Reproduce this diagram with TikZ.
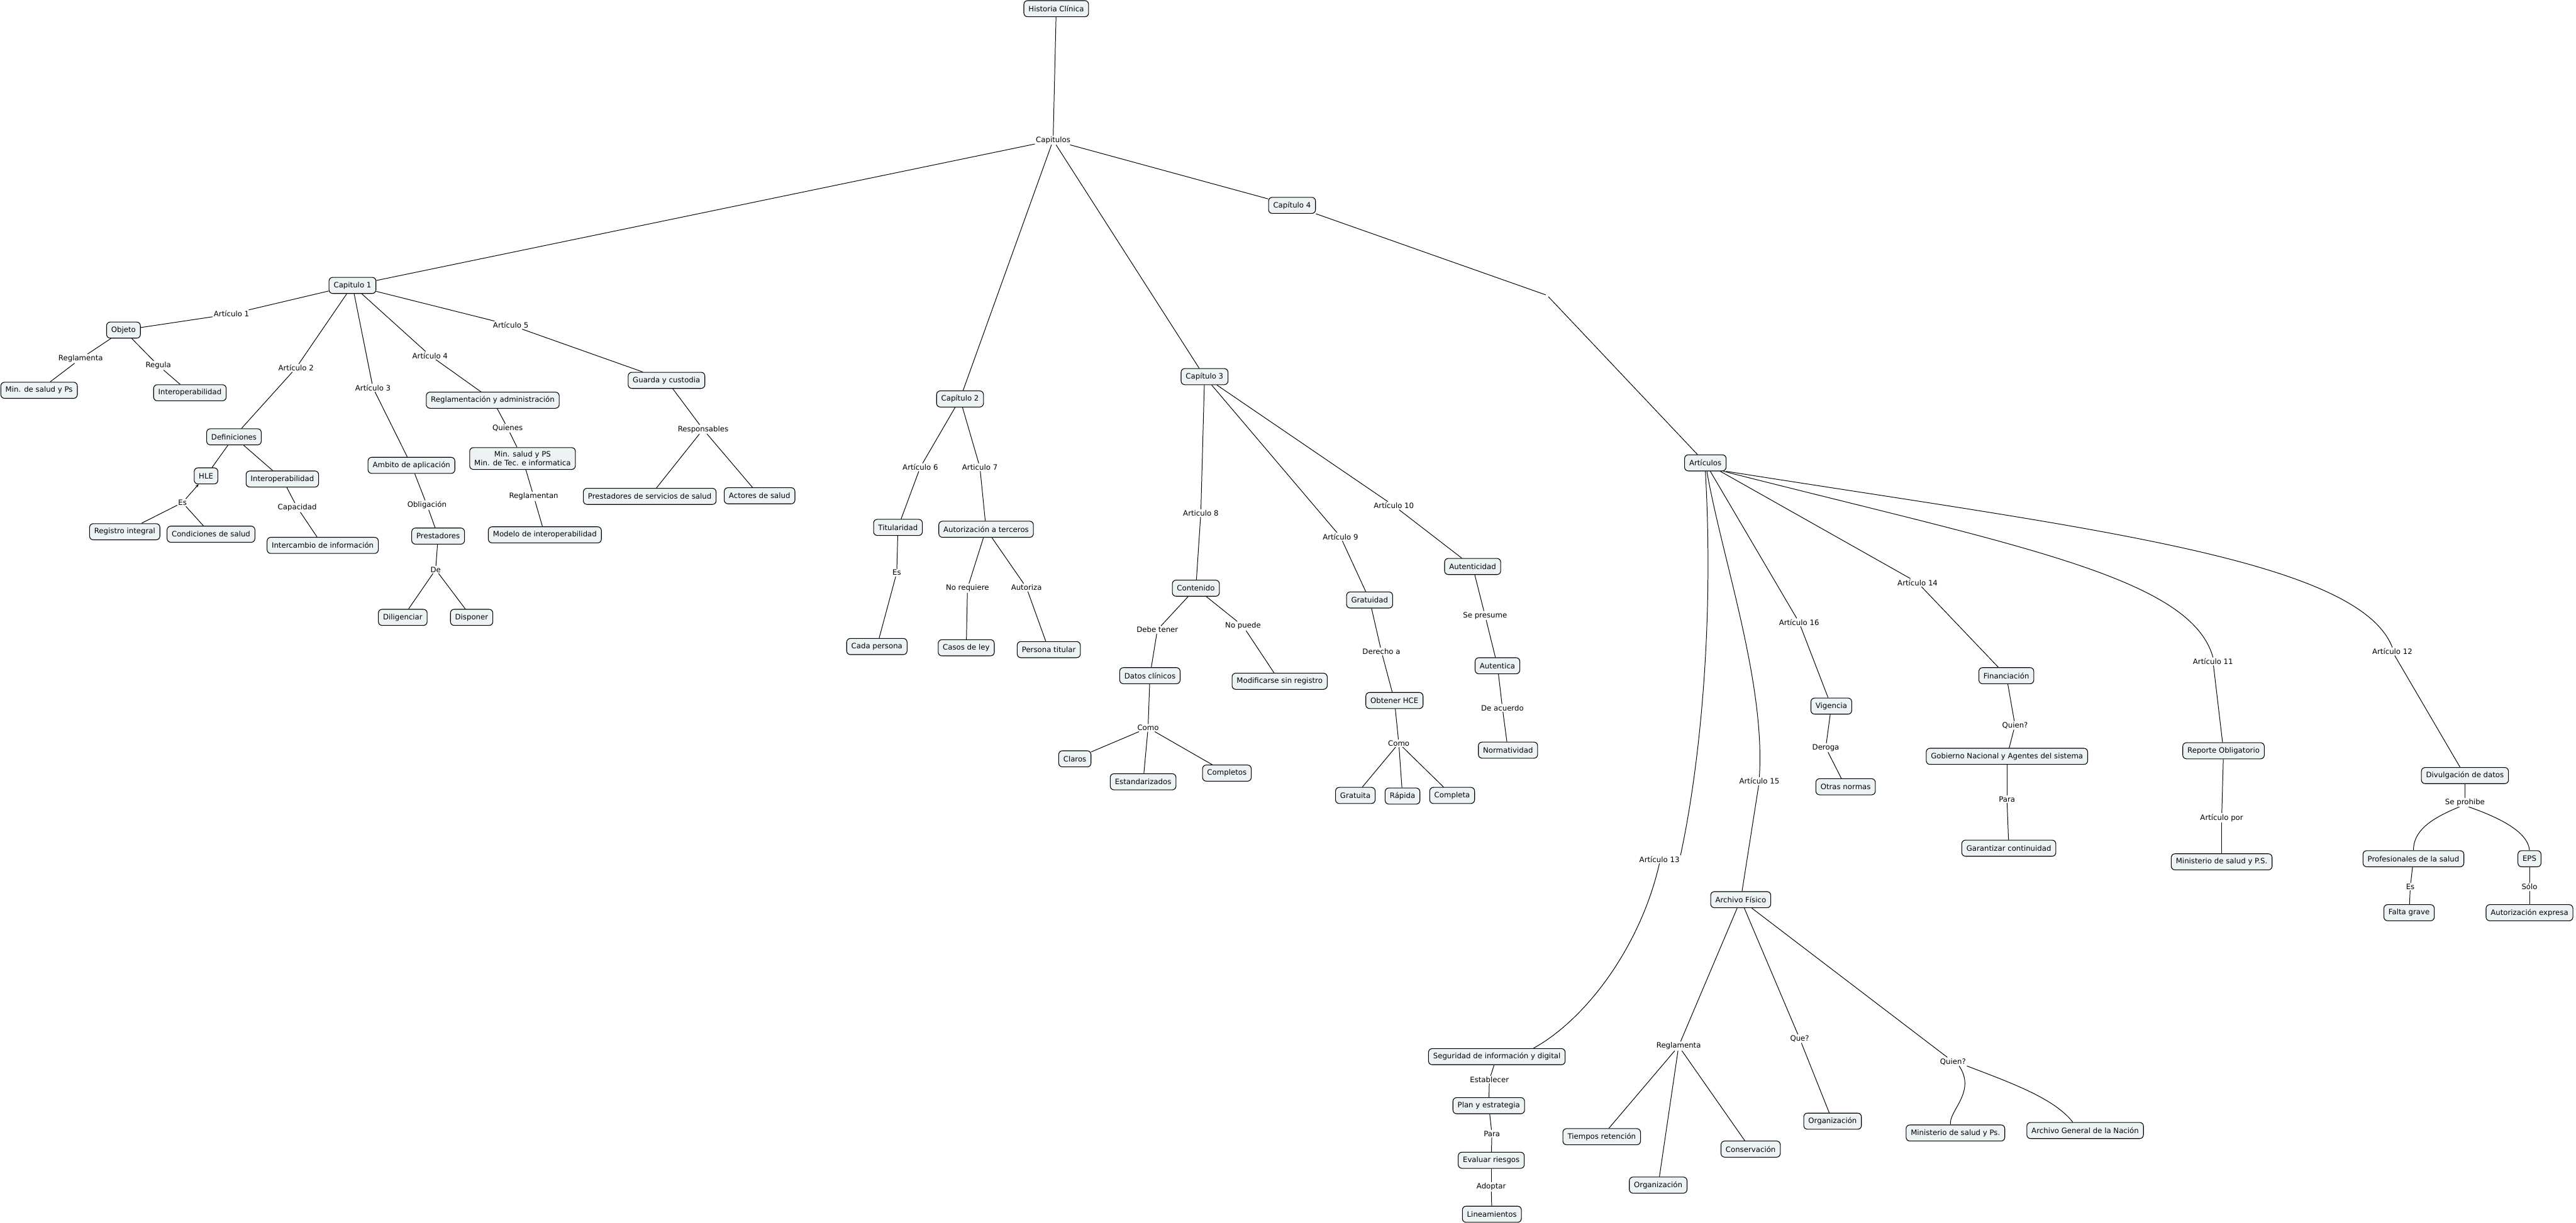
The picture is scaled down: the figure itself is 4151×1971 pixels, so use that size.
\documentclass[tikz,border=0pt]{standalone}
\usepackage{fontspec}
\setmainfont{DejaVu Sans}
\usetikzlibrary{arrows.meta}
\definecolor{boxfill}{HTML}{EDF3F5}

\begin{document}
\begin{tikzpicture}[x=1pt, y=-1pt,
  concept/.style={draw, line width=1.1pt, fill=boxfill, rounded corners=6pt,
    inner xsep=7.5pt, minimum height=26pt, font=\fontsize{11.9}{14}\selectfont},
  phrase/.style={inner sep=1.5pt, font=\fontsize{11.9}{14}\selectfont},
  conn/.style={line width=1pt}
]
  \useasboundingbox (0,0) rectangle (4151,1971);

  % Root
  \node[concept] (hc) at (1702,14) {Historia Clínica};
  \node[phrase] (caps) at (1697,226) {Capitulos};
  \node[concept] (c1) at (568,460) {Capitulo 1};
  \node[concept] (c2) at (1547,643) {Capítulo 2};
  \node[concept] (c3) at (1941,607) {Capítulo 3};
  \node[concept] (c4) at (2082,331) {Capítulo 4};

  % Capitulo 1
  \node[phrase] (ar1) at (373,506) {Artículo 1};
  \node[phrase] (ar2) at (477,593) {Artículo 2};
  \node[phrase] (ar3) at (601,625) {Artículo 3};
  \node[phrase] (ar4) at (693,573) {Artículo 4};
  \node[phrase] (ar5) at (823,524) {Artículo 5};
  \node[concept] (obj) at (199,532) {Objeto};
  \node[phrase] (regla1) at (130,578) {Reglamenta};
  \node[phrase] (regula) at (255,589) {Regula};
  \node[concept] (minps) at (63,629) {Min. de salud y Ps};
  \node[concept] (inter1) at (306,633) {Interoperabilidad};
  \node[concept] (defi) at (377,704) {Definiciones};
  \node[concept] (hle) at (332,767) {HLE};
  \node[concept] (inter2) at (455,772) {Interoperabilidad};
  \node[phrase] (es1) at (294,810) {Es};
  \node[phrase] (capac) at (479,818) {Capacidad};
  \node[concept] (regint) at (201,857) {Registro integral};
  \node[concept] (condsal) at (340,861) {Condiciones de salud};
  \node[concept] (intercambio) at (520,879) {Intercambio de información};
  \node[concept] (ambito) at (663,750) {Ambito de aplicación};
  \node[phrase] (oblig) at (688,814) {Obligación};
  \node[concept] (prest) at (706,864) {Prestadores};
  \node[phrase] (de) at (702,918) {De};
  \node[concept] (dilig) at (649,995) {Diligenciar};
  \node[concept] (dispo) at (760,995) {Disponer};
  \node[concept] (reglad) at (794,645) {Reglamentación y administración};
  \node[phrase] (quienes) at (818,690) {Quienes};
  \node[concept, align=center, inner ysep=6pt] (minis) at (842,739) {Min. salud y PS\\Min. de Tec. e informatica};
  \node[phrase] (reglan) at (860,800) {Reglamentan};
  \node[concept] (modelo) at (878,862) {Modelo de interoperabilidad};
  \node[concept] (guarda) at (1074,613) {Guarda y custodia};
  \node[phrase] (respon) at (1133,692) {Responsables};
  \node[concept] (prestss) at (1047,800) {Prestadores de servicios de salud};
  \node[concept] (actores) at (1224,799) {Actores de salud};

  % Capitulo 2
  \node[phrase] (ar6) at (1483,753) {Artículo 6};
  \node[phrase] (ar7) at (1579,753) {Articulo 7};
  \node[concept] (titul) at (1447,850) {Titularidad};
  \node[phrase] (es2) at (1445,923) {Es};
  \node[concept] (cada) at (1413,1042) {Cada persona};
  \node[concept] (autter) at (1589,853) {Autorización a terceros};
  \node[phrase] (noreq) at (1559,948) {No requiere};
  \node[phrase] (autoriza) at (1654,947) {Autoriza};
  \node[concept] (casos) at (1557,1044) {Casos de ley};
  \node[concept] (perstit) at (1690,1047) {Persona titular};

  % Capitulo 3
  \node[phrase] (ar8) at (1935,827) {Articulo 8};
  \node[phrase] (ar9) at (2160,865) {Artículo 9};
  \node[phrase] (ar10) at (2246,815) {Artículo 10};
  \node[concept] (conten) at (1927,948) {Contenido};
  \node[phrase] (debe) at (1865,1015) {Debe tener};
  \node[phrase] (nopuede) at (2003,1009) {No puede};
  \node[concept] (datos) at (1853,1089) {Datos clínicos};
  \node[concept] (modif) at (2062,1098) {Modificarse sin registro};
  \node[phrase] (como1) at (1850,1173) {Como};
  \node[concept] (claros) at (1732,1223) {Claros};
  \node[concept] (estand) at (1842,1260) {Estandarizados};
  \node[concept] (complos) at (1977,1246) {Completos};
  \node[concept] (gratuidad) at (2207,967) {Gratuidad};
  \node[phrase] (derecho) at (2226,1050) {Derecho a};
  \node[concept] (obtener) at (2247,1129) {Obtener HCE};
  \node[phrase] (como2) at (2254,1198) {Como};
  \node[concept] (gratuita) at (2184,1282) {Gratuita};
  \node[concept] (rapida) at (2260,1283) {Rápida};
  \node[concept] (completa) at (2340,1282) {Completa};
  \node[concept] (autcid) at (2373,913) {Autenticidad};
  \node[phrase] (sepres) at (2393,992) {Se presume};
  \node[concept] (autca) at (2413,1073) {Autentica};
  \node[phrase] (deac) at (2421,1141) {De acuerdo};
  \node[concept] (normat) at (2430,1209) {Normatividad};

  % Capitulo 4
  \node[inner sep=2pt] (blank) at (2493,476) {};
  \node[concept] (arts) at (2748,746) {Artículos};
  \node[phrase] (ar11) at (3566,1066) {Artículo 11};
  \node[phrase] (ar12) at (3855,1050) {Artículo 12};
  \node[phrase] (ar13) at (2674,1385) {Artículo 13};
  \node[phrase] (ar14) at (3090,939) {Artículo 14};
  \node[phrase] (ar15) at (2835,1259) {Artículo 15};
  \node[phrase] (ar16) at (2899,1003) {Artículo 16};
  \node[concept] (segur) at (2412,1703) {Seguridad de información y digital};
  \node[phrase] (establ) at (2400,1740) {Establecer};
  \node[concept] (plan) at (2399,1782) {Plan y estrategia};
  \node[phrase] (para1) at (2404,1827) {Para};
  \node[concept] (evaluar) at (2403,1870) {Evaluar riesgos};
  \node[phrase] (adopt) at (2403,1913) {Adoptar};
  \node[concept] (linea) at (2404,1957) {Lineamientos};
  \node[concept] (archivo) at (2805,1450) {Archivo Físico};
  \node[phrase] (regla2) at (2705,1686) {Reglamenta};
  \node[phrase] (que) at (2900,1674) {Que?};
  \node[phrase] (quien1) at (3147,1711) {Quien?};
  \node[concept] (tiempos) at (2581,1832) {Tiempos retención};
  \node[concept] (orga) at (2672,1910) {Organización};
  \node[concept] (conserv) at (2821,1852) {Conservación};
  \node[concept] (orgb) at (2953,1807) {Organización};
  \node[concept] (minps2) at (3151,1826) {Ministerio de salud y Ps.};
  \node[concept] (agn) at (3360,1822) {Archivo General de la Nación};
  \node[concept] (vigencia) at (2951,1138) {Vigencia};
  \node[phrase] (deroga) at (2942,1205) {Deroga};
  \node[concept] (otras) at (2974,1268) {Otras normas};
  \node[concept] (financ) at (3233,1089) {Financiación};
  \node[phrase] (quien2) at (3247,1169) {Quien?};
  \node[concept] (gobierno) at (3234,1219) {Gobierno Nacional y Agentes del sistema};
  \node[phrase] (para2) at (3234,1288) {Para};
  \node[concept] (garant) at (3237,1367) {Garantizar continuidad};
  \node[concept] (reporte) at (3583,1210) {Reporte Obligatorio};
  \node[phrase] (artpor) at (3580,1318) {Artículo por};
  \node[concept] (minps3) at (3580,1389) {Ministerio de salud y P.S.};
  \node[concept] (divulg) at (3972,1250) {Divulgación de datos};
  \node[phrase] (seproh) at (3972,1293) {Se prohibe};
  \node[concept] (profes) at (3889,1384) {Profesionales de la salud};
  \node[concept] (eps) at (4076,1384) {EPS};
  \node[phrase] (es3) at (3884,1429) {Es};
  \node[phrase] (solo) at (4076,1429) {Sólo};
  \node[concept] (falta) at (3882,1471) {Falta grave};
  \node[concept] (autexp) at (4076,1471) {Autorización expresa};

  % Connections
  \foreach \a/\b in {hc/caps, caps/c1, caps/c2, caps/c3, caps/c4,
      c1/ar1, ar1/obj, obj/regla1, regla1/minps, obj/regula, regula/inter1,
      c1/ar2, ar2/defi, defi/hle, defi/inter2, es1/regint, es1/condsal,
      inter2/capac, capac/intercambio,
      c1/ar3, ar3/ambito, ambito/oblig, oblig/prest, prest/de, de/dilig, de/dispo,
      c1/ar4, ar4/reglad, reglad/quienes, quienes/minis, minis/reglan, reglan/modelo,
      c1/ar5, ar5/guarda, guarda/respon, respon/prestss, respon/actores,
      c2/ar6, ar6/titul, titul/es2, es2/cada, c2/ar7, ar7/autter,
      autter/noreq, noreq/casos, autter/autoriza, autoriza/perstit,
      c3/ar8, ar8/conten, conten/debe, debe/datos, datos/como1,
      como1/claros, como1/estand, como1/complos, conten/nopuede, nopuede/modif,
      c3/ar9, ar9/gratuidad, gratuidad/derecho, derecho/obtener, obtener/como2,
      como2/gratuita, como2/rapida, como2/completa,
      c3/ar10, ar10/autcid, autcid/sepres, sepres/autca, autca/deac, deac/normat,
      c4/blank, blank/arts,
      arts/ar16, ar16/vigencia, vigencia/deroga, deroga/otras,
      arts/ar14, ar14/financ, financ/quien2, quien2/gobierno, gobierno/para2, para2/garant,
      ar11/reporte, reporte/artpor, artpor/minps3,
      ar12/divulg, divulg/seproh, profes/es3, es3/falta, eps/solo, solo/autexp,
      ar15/archivo, archivo/regla2, regla2/tiempos, regla2/orga, regla2/conserv,
      archivo/que, que/orgb, archivo/quien1,
      segur/establ, establ/plan, plan/para1, para1/evaluar, evaluar/adopt, adopt/linea} {
    \draw[conn] (\a) -- (\b);
  }
  \draw[conn, -{Stealth[length=5pt, width=4pt]}] (es1) -- (hle);

  % Curved links of Articulos
  \draw[conn] (arts.south) .. controls (2762,1000) and (2740,1230) .. (ar13.north east);
  \draw[conn] (ar13.south) .. controls (2645,1520) and (2560,1640) .. ([xshift=59pt]segur.north);
  \draw[conn] (arts.-80) .. controls (2775,900) and (2845,1100) .. (ar15.north);
  \draw[conn] (arts.-25) .. controls (3250,880) and (3530,930) .. (ar11.north);
  \draw[conn] (arts.-22) .. controls (3350,850) and (3800,900) .. (ar12.north);
  \draw[conn] ([xshift=-9pt]seproh.south) .. controls (3915,1320) and (3889,1340) .. (profes.north);
  \draw[conn] ([xshift=6pt]seproh.south) .. controls (4040,1322) and (4074,1345) .. (eps.north);
  \draw[conn] ([xshift=10pt]quien1.south) .. controls (3185,1760) and (3140,1790) .. ([xshift=-8pt]minps2.north);
  \draw[conn] (quien1.south east) .. controls (3240,1745) and (3310,1770) .. ([xshift=-20pt]agn.north);
\end{tikzpicture}
\end{document}
